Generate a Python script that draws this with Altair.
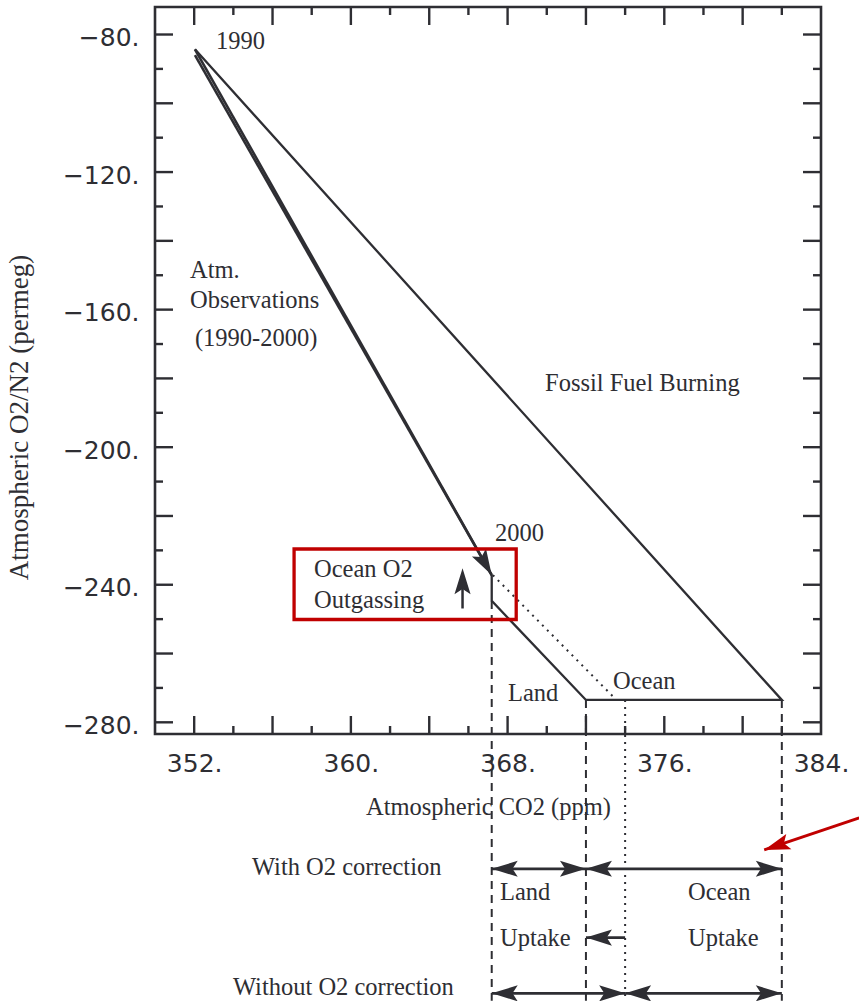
import math

import altair as alt
import pandas as pd

# ---- plot geometry -------------------------------------------------------
W, H = 666, 727
X_DOM = [350, 384]
Y_DOM = [-283.4, -72]
PX_X = W / (X_DOM[1] - X_DOM[0])
PX_Y = H / (Y_DOM[1] - Y_DOM[0])

INK = "#2e2e33"
RED = "#c00000"
SERIF = "Liberation Serif"
SANS = "DejaVu Sans"
ARROW = "M0,0L-0.31,-1L0,-0.8L0.31,-1Z"  # tip at origin, pointing down
HEAD_SIZE = 2704                         # about 26 px long

# ---- axis ticks ----------------------------------------------------------
x_label_ticks = [352, 360, 368, 376, 384]
x_major_ticks = [352, 356, 360, 364, 368, 372, 376, 380]
x_minor_ticks = [354, 358, 362, 366, 370, 374, 378, 382]
y_label_ticks = [-280, -240, -200, -160, -120, -80]
y_major_ticks = [-280, -260, -240, -220, -200, -180, -160, -140, -120, -100, -80]
y_minor_ticks = [-270, -250, -230, -210, -190, -170, -150, -130, -110, -90]

# ---- budget points (CO2 ppm, O2/N2 permeg) -------------------------------
p1990 = (352.04, -84.3)
p1990_b = (352.04, -86.0)
p2000 = (367.19, -237.2)
outgas_end = (367.19, -244.7)
land_end = (372.0, -273.5)
fossil_end = (382.0, -273.5)
land_uncorr_end = (373.4, -272.6)
ocean_uncorr_x = 374.0
outgas_arrow = (365.7, -246.9, -235.2)      # x, tail, tip

# rows of the uptake diagram under the x axis, on the same permeg scale
row_with = -322.6
row_uptake = -342.6
row_without = -358.8
guide_bottom = -361.0
red_arrow = (385.95, -307.8, 381.1, -317.1)

# highlighted region around the 2000 point
box = (357.1, 368.44, -229.6, -250.1)

labels = [
    ("1990", 353.11, -84.2),
    ("Atm.", 351.79, -150.8),
    ("Observations", 351.79, -159.5),
    ("(1990-2000)", 352.04, -170.6),
    ("Fossil Fuel Burning", 369.91, -183.7),
    ("2000", 367.36, -227.3),
    ("Ocean O2", 358.12, -237.7),
    ("Outgassing", 358.12, -246.8),
    ("Land", 368.02, -273.8),
    ("Ocean", 373.38, -270.3),
    ("With O2 correction", 354.95, -324.4),
    ("Land", 367.61, -331.7),
    ("Ocean", 377.21, -331.7),
    ("Uptake", 367.61, -345.0),
    ("Uptake", 377.21, -345.0),
    ("Without O2 correction", 353.98, -359.3),
]

xs = alt.Scale(domain=X_DOM, nice=False, zero=False)
ys = alt.Scale(domain=Y_DOM, nice=False, zero=False)

LABEL_EXPR = "format(datum.value, 'd') + '.'"

x_axis = alt.Axis(
    values=x_label_ticks, labelExpr=LABEL_EXPR, ticks=False, domain=False, grid=False,
    labelFont=SANS, labelFontSize=25, labelColor=INK, labelPadding=17,
    labelFlush=False, labelOverlap=False, labelBound=False,
    title="Atmospheric CO2 (ppm)", titleFont=SERIF, titleFontSize=24.5,
    titleFontWeight="normal", titleColor=INK, titleY=80, titleBaseline="alphabetic",
)
y_axis = alt.Axis(
    values=y_label_ticks, labelExpr=LABEL_EXPR, ticks=False, domain=False, grid=False,
    labelFont=SANS, labelFontSize=25, labelColor=INK, labelPadding=16, labelOffset=3,
    labelFlush=False, labelOverlap=False, labelBound=False,
    title="Atmospheric O2/N2 (permeg)", titleFont=SERIF, titleFontSize=27,
    titleFontWeight="normal", titleColor=INK, titleAngle=270, titleX=-136, titleY=410,
    titleAlign="center", titleBaseline="middle",
)


def X(field):
    return alt.X(field, scale=xs, axis=x_axis)


def Y(field):
    return alt.Y(field, scale=ys, axis=y_axis)


def heading(xf, yf, xt, yt):
    dx = (xt - xf) * PX_X
    dy = -(yt - yf) * PX_Y
    return math.degrees(math.atan2(-dx, dy)) % 360


def arrow_heads(x0, y0, x1, y1, both):
    out = [dict(x=x1, y=y1, angle=heading(x0, y0, x1, y1))]
    if both:
        out.append(dict(x=x0, y=y0, angle=heading(x1, y1, x0, y0)))
    return out


def seg_layer(df, **mark):
    return alt.Chart(df).mark_rule(clip=False, strokeCap="butt", **mark).encode(
        x=X("x:Q"), y=Y("y:Q"), x2="x2:Q", y2="y2:Q",
    )


def head_layer(rows, color):
    return alt.Chart(pd.DataFrame(rows)).mark_point(
        clip=False, shape=ARROW, filled=True, opacity=1, size=HEAD_SIZE, color=color, strokeWidth=0
    ).encode(x=X("x:Q"), y=Y("y:Q"), angle=alt.Angle("angle:Q", scale=None))


# ---- budget path: 2000 -> outgassing -> land -> ocean -> back to 1990 -----
path_pts = [p2000, outgas_end, land_end, fossil_end, p1990]
path_df = pd.DataFrame({"x": [p[0] for p in path_pts],
                        "y": [p[1] for p in path_pts],
                        "i": list(range(len(path_pts)))})
budget = alt.Chart(path_df).mark_line(clip=False, color=INK, strokeWidth=2.3, strokeJoin="miter").encode(
    x=X("x:Q"), y=Y("y:Q"), order="i:Q",
)

# observed trajectory 1990 -> 2000
obs = seg_layer(pd.DataFrame([
    dict(x=p1990[0], y=p1990[1], x2=p2000[0], y2=p2000[1]),
    dict(x=p1990_b[0], y=p1990_b[1], x2=p2000[0], y2=p2000[1]),
]), color=INK, strokeWidth=2.6)
obs_head = head_layer(arrow_heads(p1990[0], p1990[1], p2000[0], p2000[1], False), INK)

# uncorrected land line and guides
dotted = seg_layer(pd.DataFrame([
    dict(x=p2000[0] + 0.06, y=p2000[1], x2=land_uncorr_end[0], y2=land_uncorr_end[1]),
    dict(x=ocean_uncorr_x, y=fossil_end[1], x2=ocean_uncorr_x, y2=guide_bottom),
]), color=INK, strokeWidth=2, strokeDash=[2, 5])
dashed = seg_layer(pd.DataFrame([
    dict(x=outgas_end[0], y=outgas_end[1], x2=outgas_end[0], y2=guide_bottom),
    dict(x=land_end[0], y=land_end[1], x2=land_end[0], y2=guide_bottom),
    dict(x=fossil_end[0], y=fossil_end[1], x2=fossil_end[0], y2=guide_bottom),
]), color=INK, strokeWidth=2, strokeDash=[8, 6])

# outgassing arrow inside the box
outgas = seg_layer(pd.DataFrame([dict(x=outgas_arrow[0], y=outgas_arrow[1],
                                      x2=outgas_arrow[0], y2=outgas_arrow[2] - 2)]),
                   color=INK, strokeWidth=2.5)
outgas_head = head_layer(arrow_heads(outgas_arrow[0], outgas_arrow[1],
                                     outgas_arrow[0], outgas_arrow[2], False), INK)

# uptake arrows under the axis
spans = [
    (p2000[0], land_end[0], row_with, True),
    (land_end[0], fossil_end[0], row_with, True),
    (ocean_uncorr_x, land_end[0], row_uptake, False),
    (p2000[0], ocean_uncorr_x, row_without, True),
    (ocean_uncorr_x, fossil_end[0], row_without, True),
]
span_lines = seg_layer(pd.DataFrame([dict(x=a, y=r, x2=b, y2=r) for a, b, r, _ in spans]),
                       color=INK, strokeWidth=2.8)
span_heads = head_layer([h for a, b, r, both in spans for h in arrow_heads(a, r, b, r, both)], INK)

# red highlight box and pointer
box_layer = alt.Chart(pd.DataFrame([dict(x=box[0], x2=box[1], y=box[2], y2=box[3])])).mark_rect(
    clip=False, fillOpacity=0, stroke=RED, strokeWidth=3.3
).encode(x=X("x:Q"), x2="x2:Q", y=Y("y:Q"), y2="y2:Q")
pointer = seg_layer(pd.DataFrame([dict(x=red_arrow[0], y=red_arrow[1],
                                       x2=red_arrow[2], y2=red_arrow[3])]),
                    color=RED, strokeWidth=2.8)
pointer_head = head_layer(arrow_heads(*red_arrow, False), RED)


# frame ticks, drawn inward
def tick_layer(vals, side, length):
    df = pd.DataFrame({"v": vals})
    m = alt.Chart(df).mark_rule(clip=False, color=INK, strokeWidth=2.4, strokeCap="butt")
    if side == "bottom":
        return m.encode(x=X("v:Q"), y=alt.value(H - length), y2=alt.value(H))
    if side == "top":
        return m.encode(x=X("v:Q"), y=alt.value(0), y2=alt.value(length))
    if side == "left":
        return m.encode(y=Y("v:Q"), x=alt.value(0), x2=alt.value(length))
    return m.encode(y=Y("v:Q"), x=alt.value(W - length), x2=alt.value(W))


ticks = []
for side in ("bottom", "top"):
    ticks.append(tick_layer(x_major_ticks, side, 18))
    ticks.append(tick_layer(x_minor_ticks, side, 8))
for side in ("left", "right"):
    ticks.append(tick_layer(y_major_ticks, side, 18))
    ticks.append(tick_layer(y_minor_ticks, side, 8))

text_df = pd.DataFrame(labels, columns=["t", "x", "y"])
texts = alt.Chart(text_df).mark_text(
    clip=False, align="left", baseline="alphabetic", font=SERIF, fontSize=24.5, color=INK
).encode(x=X("x:Q"), y=Y("y:Q"), text="t:N")

chart = alt.layer(
    budget, obs, obs_head, dotted, dashed, outgas, outgas_head,
    span_lines, span_heads, box_layer, pointer, pointer_head, *ticks, texts,
).properties(
    width=W, height=H,
    autosize=alt.AutoSizeParams(type="none"),
    padding={"left": 155, "top": 7, "right": 38, "bottom": 267},
    background="white",
).configure_view(stroke=INK, strokeWidth=2.6)

chart.save("out.html", embed_options={"renderer": "svg", "actions": False})
